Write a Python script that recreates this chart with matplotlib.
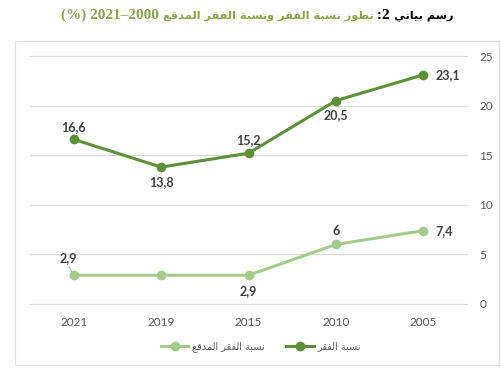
import matplotlib
matplotlib.use("Agg")
import matplotlib.pyplot as plt
from matplotlib.patches import Rectangle
from matplotlib.offsetbox import TextArea, HPacker, AnchoredOffsetbox

# ---------------- data ----------------
years = ["2021", "2019", "2015", "2010", "2005"]
poverty = [16.6, 13.8, 15.2, 20.5, 23.1]
extreme = [2.9, 2.9, 2.9, 6, 7.4]
poverty_labels = ["16,6", "13,8", "15,2", "20,5", "23,1"]
extreme_labels = ["2,9", "", "2,9", "6", "7,4"]
yticks = [0, 5, 10, 15, 20, 25]
title_prefix = "رسم بياني"
title_num = "2:"
title_main = "تطور نسبة الفقر ونسبة الفقر المدقع"
title_years = "2000–2021 (%)"
name_poverty = "نسبة الفقر"
name_extreme = "نسبة الفقر المدقع"

# ---------------- minimal Arabic shaping ----------------
FORMS = {
    'ا': (0xFE8D, 0xFE8E, None, None),
    'ب': (0xFE8F, 0xFE90, 0xFE91, 0xFE92),
    'ة': (0xFE93, 0xFE94, None, None),
    'ت': (0xFE95, 0xFE96, 0xFE97, 0xFE98),
    'د': (0xFEA9, 0xFEAA, None, None),
    'ر': (0xFEAD, 0xFEAE, None, None),
    'س': (0xFEB1, 0xFEB2, 0xFEB3, 0xFEB4),
    'ط': (0xFEC1, 0xFEC2, 0xFEC3, 0xFEC4),
    'ع': (0xFEC9, 0xFECA, 0xFECB, 0xFECC),
    'ف': (0xFED1, 0xFED2, 0xFED3, 0xFED4),
    'ق': (0xFED5, 0xFED6, 0xFED7, 0xFED8),
    'ل': (0xFEDD, 0xFEDE, 0xFEDF, 0xFEE0),
    'م': (0xFEE1, 0xFEE2, 0xFEE3, 0xFEE4),
    'ن': (0xFEE5, 0xFEE6, 0xFEE7, 0xFEE8),
    'و': (0xFEED, 0xFEEE, None, None),
    'ي': (0xFEF1, 0xFEF2, 0xFEF3, 0xFEF4),
}


def shape_word(w):
    out = []
    for i, c in enumerate(w):
        if c not in FORMS:
            out.append(c)
            continue
        prev = w[i - 1] if i > 0 else None
        nxt = w[i + 1] if i + 1 < len(w) else None
        join_prev = prev in FORMS and FORMS[prev][2] is not None
        join_next = nxt in FORMS and FORMS[c][2] is not None
        iso, fin, ini, med = FORMS[c]
        if join_prev and join_next:
            cp = med
        elif join_prev:
            cp = fin
        elif join_next:
            cp = ini
        else:
            cp = iso
        out.append(chr(cp))
    return "".join(out)[::-1]


def visual(text):
    words = text.split(" ")
    return " ".join(shape_word(w) for w in reversed(words))


# ---------------- figure ----------------
fig = plt.figure(figsize=(5.02, 3.72), dpi=100)
fig.patch.set_facecolor("white")

# chart border
fig.add_artist(Rectangle((15 / 502, 1 - 365 / 372), (499 - 15) / 502, (365 - 41) / 372,
                         transform=fig.transFigure, fill=False, edgecolor="#DDDDDD", lw=0.8))

ax = fig.add_axes([30 / 502, 1 - 304 / 372, (467 - 30) / 502, (304 - 56) / 372])
x = list(range(len(years)))
dark = "#5B9137"
light = "#A3CC8A"

ax.plot(x, extreme, color=light, lw=2.2, marker="o", ms=6, label=visual(name_extreme), zorder=3)
ax.plot(x, poverty, color=dark, lw=2.2, marker="o", ms=6, label=visual(name_poverty), zorder=3)

ax.set_xlim(-0.5, len(years) - 0.5)
ax.set_ylim(0, 25)
ax.set_yticks(yticks)
ax.set_xticks(x)
ax.set_xticklabels(years)
ax.yaxis.tick_right()
ax.tick_params(axis="both", length=0, labelsize=8.5, colors="#595959", pad=9)
ax.tick_params(axis="x", pad=9)
for lbl in ax.get_xticklabels() + ax.get_yticklabels():
    lbl.set_family("Lato")
for s in ax.spines.values():
    s.set_visible(False)
ax.grid(axis="y", color="#D9D9D9", lw=0.9)
ax.set_axisbelow(True)
for gl in ax.get_ygridlines():
    gl.set_clip_on(False)

lab_kw = dict(fontsize=9, fontweight="bold", color="#404040", family="Lato")
# offsets in points: above / below / right
pos_p = [(0, 8.6, "center"), (0, -10.5, "center"), (0, 9.5, "center"), (0, -10.5, "center"), (9, 0, "left")]
for i, (v, t) in enumerate(zip(poverty, poverty_labels)):
    dx, dy, ha = pos_p[i]
    ax.annotate(t, (x[i], v), xytext=(dx, dy), textcoords="offset points",
                ha=ha, va="center", **lab_kw)
pos_e = [(-3.6, 12.2, "center"), None, (0, -11.5, "center"), (0, 10, "center"), (9, 0, "left")]
for i, (v, t) in enumerate(zip(extreme, extreme_labels)):
    if not t:
        continue
    dx, dy, ha = pos_e[i]
    ax.annotate(t, (x[i], v), xytext=(dx, dy), textcoords="offset points",
                ha=ha, va="center", **lab_kw)
# leader line for first extreme label
ax.annotate("", (x[0], extreme[0]), xytext=(-3.5, 6.5), textcoords="offset points",
            arrowprops=dict(arrowstyle="-", color="#A6A6A6", lw=0.6, shrinkA=0, shrinkB=3))

leg = fig.legend(loc="center", bbox_to_anchor=(0.52, 1 - 347 / 372), ncol=2, frameon=False,
                 fontsize=7, handlelength=2.8, columnspacing=2.2, handletextpad=0.4)
for t in leg.get_texts():
    t.set_color("#595959")

# title
green = "#8DA24C"
serif = dict(fontsize=11, fontweight="bold", family=["Liberation Serif", "DejaVu Sans"])
arab = dict(fontsize=8.2, fontweight="bold", family="DejaVu Sans")
years_vis = "(%) 2021–2000 "
parts = [
    TextArea(years_vis, textprops=dict(color=green, **serif)),
    TextArea(visual(title_main), textprops=dict(color=green, **arab)),
    TextArea(" :2 ", textprops=dict(color="black", **serif)),
    TextArea(visual(title_prefix), textprops=dict(color="black", **arab)),
]
box = HPacker(children=parts, align="baseline", pad=0, sep=0)
ab = AnchoredOffsetbox(loc="center", child=box, pad=0, frameon=False,
                       bbox_to_anchor=(257 / 502, 1 - 15 / 372), bbox_transform=fig.transFigure)
fig.add_artist(ab)

fig.savefig("out.png", dpi=100, facecolor="white")
